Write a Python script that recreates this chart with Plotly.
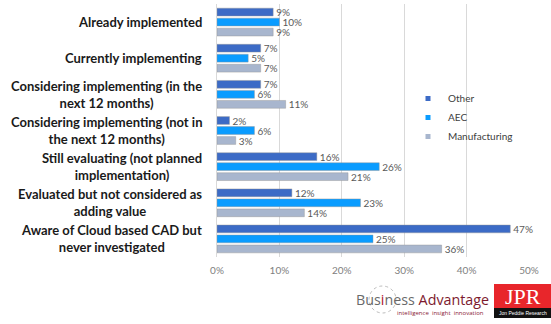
import plotly.graph_objects as go

categories = [
    "Already implemented",
    "Currently implementing",
    "Considering implementing (in the<br>next 12 months)",
    "Considering implementing (not in<br>the next 12 months)",
    "Still evaluating (not planned<br>implementation)",
    "Evaluated but not considered as<br>adding value",
    "Aware of Cloud based CAD but<br>never investigated",
]
other = [9, 7, 7, 2, 16, 12, 47]
aec = [10, 5, 6, 6, 26, 23, 25]
manufacturing = [9, 7, 11, 3, 21, 14, 36]
x_ticks = [0, 10, 20, 30, 40, 50]

series = [
    ("Other", other, "#3C6BC6"),
    ("AEC", aec, "#0A9CFF"),
    ("Manufacturing", manufacturing, "#A8B6CE"),
]

W, H = 551, 324
L, R, T, B = 217, 22, 4, 67
PW, PH = W - L - R, H - T - B


def px(x):
    return (x - L) / PW


def py(y):
    return (H - B - y) / PH


fig = go.Figure()
ykeys = list(range(len(categories)))
for name, vals, col in series:
    fig.add_trace(go.Bar(
        y=ykeys, x=vals, orientation="h", name=name,
        marker=dict(color=col, line=dict(color="rgba(150,150,150,0.55)", width=0.8)),
        text=[f"{v}%" for v in vals], textposition="outside", constraintext="none",
        textfont=dict(family="Lato", size=10, color="#595959"),
        cliponaxis=False, showlegend=False,
    ))
    fig.add_trace(go.Scatter(
        x=[None], y=[None], mode="markers", name=name,
        marker=dict(symbol="square", size=5, color=col),
    ))

for i, cat in enumerate(categories):
    fig.add_annotation(
        x=0, xref="paper", xanchor="right", xshift=-13,
        y=i, yref="y", yanchor="middle",
        text=f"<b>{cat}</b>", showarrow=False, align="center",
        font=dict(family="Lato", size=13, color="#1a1a1a"),
    )

# logos
fig.add_shape(type="circle", xref="paper", yref="paper",
              x0=px(369), x1=px(396), y0=py(286), y1=py(313),
              line=dict(color="#bdbdbd", width=1, dash="dot"), fillcolor="rgba(0,0,0,0)")
fig.add_annotation(
    x=px(354), y=py(299), xref="paper", yref="paper", xanchor="left", yanchor="middle",
    text="<span style='color:#6a6a6a'>Bus</span><span style='color:#b0102a'>i</span>"
         "<span style='color:#6a6a6a'>ness</span> <span style='color:#7d1a2e'>Advantage</span>",
    showarrow=False, font=dict(family="Open Sans", size=14.3),
)
fig.add_annotation(
    x=px(395), y=py(313), xref="paper", yref="paper", xanchor="left", yanchor="middle",
    text="intelligence  insight  innovation", showarrow=False,
    font=dict(family="Open Sans", size=6, color="#8a2035"),
)
fig.add_shape(type="rect", xref="paper", yref="paper",
              x0=px(494), x1=px(552), y0=py(318), y1=py(284),
              line=dict(width=0), fillcolor="#E8262B")
fig.add_shape(type="rect", xref="paper", yref="paper",
              x0=px(494), x1=px(552), y0=py(318), y1=py(308),
              line=dict(width=0), fillcolor="#111111")
fig.add_annotation(
    x=px(523), y=py(296), xref="paper", yref="paper", xanchor="center", yanchor="middle",
    text="JPR", showarrow=False,
    font=dict(family="Liberation Serif", size=22, color="white"),
)
fig.add_annotation(
    x=px(523), y=py(313), xref="paper", yref="paper", xanchor="center", yanchor="middle",
    text="Jon Peddie Research", showarrow=False,
    font=dict(family="Liberation Sans Narrow, Liberation Sans", size=5, color="white"),
)

fig.update_layout(
    width=W, height=H,
    margin=dict(l=L, r=R, t=T, b=B, pad=0),
    paper_bgcolor="white", plot_bgcolor="white",
    barmode="group", bargap=0.17, bargroupgap=0.22,
    font=dict(family="Lato"),
    xaxis=dict(
        range=[0, 50], tickvals=x_ticks, ticktext=[f"{t}%" for t in x_ticks],
        showgrid=True, gridcolor="#d9d9d9", gridwidth=1, zeroline=False,
        showline=False, ticks="", ticklabelstandoff=6,
        tickfont=dict(family="Lato", size=10, color="#808080"),
    ),
    yaxis=dict(
        range=[len(categories) - 0.5, -0.5], showticklabels=False,
        showgrid=False, zeroline=False, showline=True, linecolor="#d9d9d9", linewidth=1,
        ticks="",
    ),
    legend=dict(
        x=px(408), y=py(84), xanchor="left", yanchor="top",
        bgcolor="rgba(0,0,0,0)", font=dict(family="Lato", size=10, color="#404040"),
        itemwidth=30, tracegroupgap=0,
    ),
)

fig.write_html("out.html")
